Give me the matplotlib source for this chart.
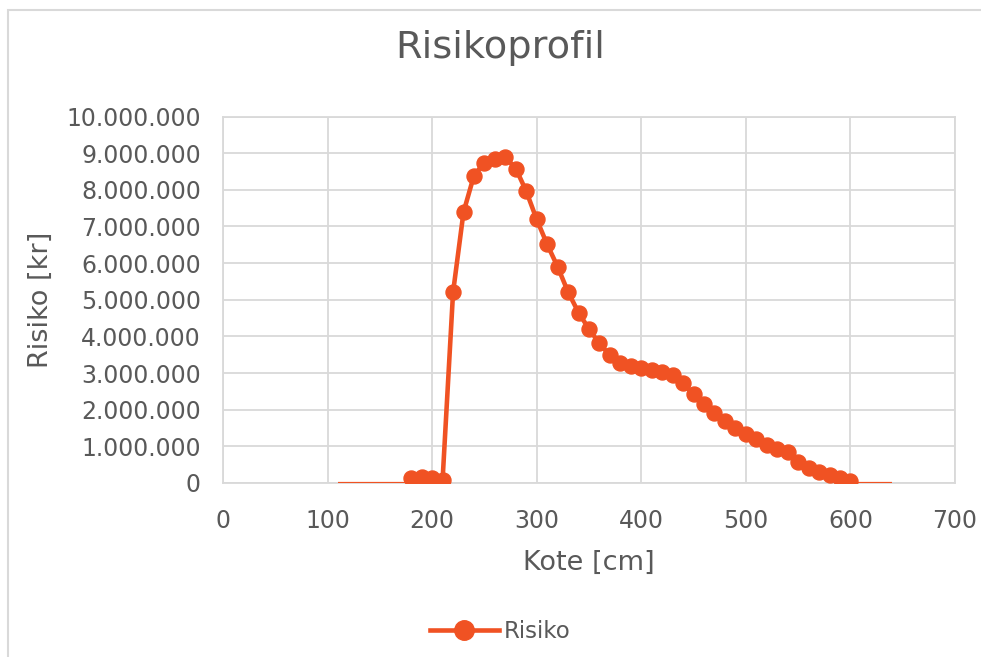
import matplotlib
matplotlib.use("Agg")
import matplotlib.pyplot as plt
from matplotlib.ticker import FuncFormatter, MultipleLocator
from matplotlib.patches import Rectangle

# Data
kote_lav = [110, 120, 130, 140, 150, 160, 170]
risiko_lav = [0, 0, 0, 0, 0, 0, 0]
kote = [180, 190, 200, 210, 220, 230, 240, 250, 260, 270, 280, 290, 300,
        310, 320, 330, 340, 350, 360, 370, 380, 390, 400, 410, 420, 430,
        440, 450, 460, 470, 480, 490, 500, 510, 520, 530, 540, 550, 560,
        570, 580, 590, 600]
risiko = [140000, 170000, 140000, 90000, 5200000, 7390000, 8390000, 8740000,
          8830000, 8890000, 8580000, 7960000, 7190000, 6510000, 5900000,
          5210000, 4650000, 4200000, 3810000, 3480000, 3270000, 3200000,
          3130000, 3090000, 3030000, 2940000, 2720000, 2420000, 2150000,
          1910000, 1700000, 1500000, 1340000, 1200000, 1040000, 930000,
          840000, 560000, 410000, 290000, 220000, 150000, 50000]
kote_hoy = [610, 620, 630, 640]
risiko_hoy = [0, 0, 0, 0]

title = "Risikoprofil"
xlabel = "Kote [cm]"
ylabel = "Risiko [kr]"
series_name = "Risiko"

color = "#F05223"
text_color = "#595959"
grid_color = "#D9D9D9"

fig = plt.figure(figsize=(9.81, 6.57), dpi=100)
fig.patch.set_facecolor("white")
ax = fig.add_axes([223/981, 1-483/657, (955-223)/981, (483-116.5)/657])

# thin baseline segments (no markers)
ax.plot(kote_lav + [kote[0]], risiko_lav + [0], color=color, lw=1.6,
        solid_capstyle="butt", zorder=3)
ax.plot([kote[-1]] + kote_hoy, [0] + risiko_hoy, color=color, lw=1.6,
        solid_capstyle="butt", zorder=3)

ax.plot(kote, risiko, color=color, lw=3.3, marker="o", markersize=10.8,
        markerfacecolor=color, markeredgecolor=color, label=series_name,
        zorder=4)

ax.set_xlim(0, 700)
ax.set_ylim(0, 10000000)
ax.xaxis.set_major_locator(MultipleLocator(100))
ax.yaxis.set_major_locator(MultipleLocator(1000000))
ax.yaxis.set_major_formatter(FuncFormatter(lambda v, p: f"{int(round(v)):,}".replace(",", ".")))

ax.grid(True, color=grid_color, lw=1.3, zorder=0)
ax.set_axisbelow(True)
for s in ax.spines.values():
    s.set_color(grid_color)
    s.set_linewidth(1.3)
ax.tick_params(axis="both", length=0, labelsize=17, colors=text_color)
ax.tick_params(axis="x", pad=19)
ax.tick_params(axis="y", pad=16)

ax.set_xlabel(xlabel, fontsize=19.5, color=text_color, labelpad=12)
ax.set_ylabel(ylabel, fontsize=19.5, color=text_color, labelpad=9)
fig.text(500/981, 1-48/657, title, fontsize=27.5, color=text_color,
         ha="center", va="center")

leg = ax.legend(loc="center", bbox_to_anchor=(500/981, 1-632/657),
                bbox_transform=fig.transFigure, frameon=False, fontsize=16.5,
                labelcolor=text_color, handlelength=3.0, handletextpad=0.2,
                markerscale=1.3)

fig.patches.append(Rectangle((8/981, -0.1), 2, 1.1 - 10/657,
                             transform=fig.transFigure, fill=False,
                             edgecolor=grid_color, lw=1.5))

fig.savefig("out.png", dpi=100)
